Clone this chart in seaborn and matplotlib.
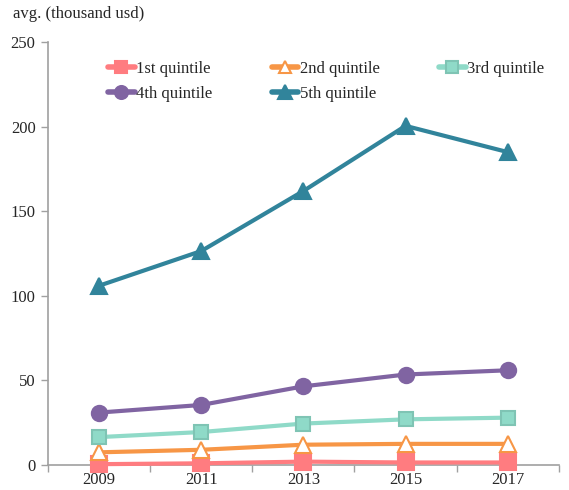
import matplotlib
matplotlib.use("Agg")
import matplotlib.pyplot as plt
import seaborn as sns
import pandas as pd
from matplotlib.ticker import FixedLocator

years = ["2009", "2011", "2013", "2015", "2017"]
series_names = ["1st quintile", "2nd quintile", "3rd quintile", "4th quintile", "5th quintile"]
q1 = [0.5, 1.0, 2.0, 1.5, 1.5]
q2 = [7.5, 9.0, 12.0, 12.5, 12.5]
q3 = [16.5, 19.5, 24.5, 27.0, 28.0]
q4 = [31.0, 35.5, 46.5, 53.5, 56.0]
q5 = [106.0, 126.5, 162.0, 200.5, 185.0]
yticks = [0, 50, 100, 150, 200, 250]

colors = ["#FF7C80", "#F79646", "#8FDAC8", "#8064A2", "#31849B"]
edges = ["#FF7C80", "#F79646", "#7FC4B4", "#8064A2", "#31849B"]
markers = ["s", "^", "s", "o", "^"]
faces = ["#FF7C80", "white", "#8FDAC8", "#8064A2", "#31849B"]
msizes = [11, 11, 10.5, 11, 11.5]

sns.set_style("white")
plt.rcParams["font.family"] = ["Liberation Serif", "DejaVu Serif"]

fig = plt.figure(figsize=(5.69, 4.90), dpi=100)
ax = fig.add_axes([0.0844, 0.051, 0.8976, 0.863])

data = [q1, q2, q3, q4, q5]
for name, vals, c, e, m, fc, ms in zip(series_names, data, colors, edges, markers, faces, msizes):
    df = pd.DataFrame({"x": list(range(len(years))), "y": vals})
    sns.lineplot(data=df, x="x", y="y", ax=ax, color=c, linewidth=3.0,
                 marker=m, markersize=ms, markerfacecolor=fc,
                 markeredgecolor=e, markeredgewidth=1.5, label=name, clip_on=False)

ax.set_xlim(-0.5, len(years) - 0.5)
ax.set_ylim(0, 250)
ax.set_xticks(range(len(years)))
ax.set_xticklabels(years, fontsize=12)
ax.xaxis.set_minor_locator(FixedLocator([i - 0.5 for i in range(len(years) + 1)]))
ax.tick_params(axis="x", which="major", length=0, pad=5)
ax.tick_params(axis="x", which="minor", length=5, color="#A0A0A0", width=1, direction="out", bottom=True)
ax.set_yticks(yticks)
ax.set_yticklabels([str(t) for t in yticks], fontsize=12)
ax.tick_params(axis="y", length=5, color="#A0A0A0", width=1, direction="out", left=True, pad=4)
for s in ["top", "right"]:
    ax.spines[s].set_visible(False)
for s in ["left", "bottom"]:
    ax.spines[s].set_color("#A0A0A0")
    ax.spines[s].set_linewidth(1.2)
    ax.spines[s].set_zorder(0.5)
ax.set_xlabel("")
ax.set_ylabel("")
ax.grid(False)

handles, labels = ax.get_legend_handles_labels()
order = [0, 3, 1, 4, 2]
leg = ax.legend([handles[i] for i in order], [labels[i] for i in order],
                loc="upper left", bbox_to_anchor=(0.088, 0.992), ncol=3, frameon=False,
                fontsize=12, handlelength=1.6, handletextpad=0.1, columnspacing=3.55,
                labelspacing=0.55, markerscale=0.85)
for h in leg.legend_handles:
    h.set_linewidth(4.0)

fig.text(0.022, 0.955, "avg. (thousand usd)", fontsize=12, ha="left", va="bottom")

fig.savefig("out.png", dpi=100)
